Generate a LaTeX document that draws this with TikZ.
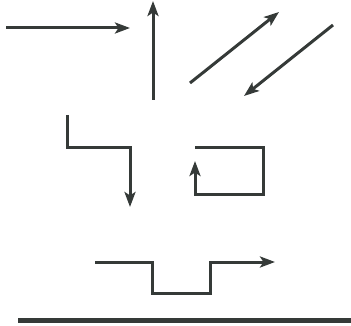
\documentclass[tikz,border=0pt]{standalone}
\usetikzlibrary{arrows.meta}
\definecolor{ink}{HTML}{353A38}
\begin{document}
\begin{tikzpicture}[x=1pt,y=-1pt,
  path/.style={draw=ink,line width=3pt,line join=miter},
  arr/.style={path,-{Stealth[length=15pt,width=11pt,inset=3.5pt]}}]
\useasboundingbox (0,0) rectangle (351,326);
% top row
\draw[arr] (6,28) -- (130,28);
\draw[arr] (153,100) -- (153,1);
\draw[arr] (190,83) -- (279,12);
\draw[arr] (333,25) -- (244,96);
% step
\draw[arr] (67,115) -- (67,148) -- (130,148) -- (130,207);
% loop
\draw[arr] (195,148) -- (263,148) -- (263,195) -- (195,195) -- (195,161);
% wave
\draw[arr] (95,262) -- (152,262) -- (152,293) -- (210,293) -- (210,262) -- (275,262);
% baseline
\draw[draw=ink,line width=5pt] (18,320.5) -- (351,320.5);
\end{tikzpicture}
\end{document}
